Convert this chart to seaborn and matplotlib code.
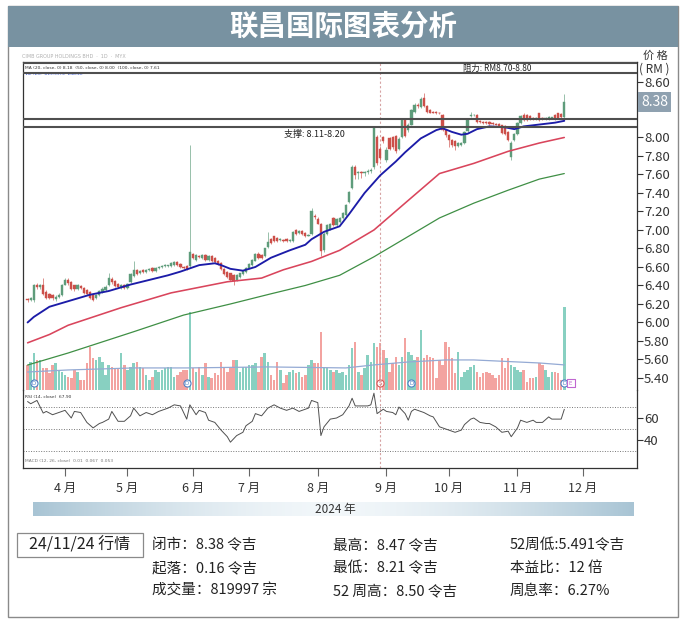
import numpy as np
import pandas as pd
import matplotlib
matplotlib.use("Agg")
import matplotlib.pyplot as plt
from matplotlib.patches import Rectangle
from matplotlib.colors import LinearSegmentedColormap
from matplotlib.transforms import blended_transform_factory
import seaborn as sns

sns.set_theme(style="white")
plt.rcParams["font.family"] = ["Noto Sans CJK SC", "DejaVu Sans"]
plt.rcParams["axes.unicode_minus"] = False

# ---------------- data ----------------
start_date = "2024-03-13"
end_date = "2024-12-31"
holidays = ["2024-03-28", "2024-04-10", "2024-04-11", "2024-05-01", "2024-05-22",
            "2024-06-03", "2024-06-17", "2024-07-08", "2024-09-16", "2024-10-31",
            "2024-12-25"]

opens = [
    6.25, 6.24, 6.24, 6.40, 6.38, 6.40, 6.33, 6.31, 6.30, 6.25,
    6.28, 6.30, 6.41, 6.46, 6.44, 6.40, 6.36, 6.39, 6.37, 6.35,
    6.33, 6.30, 6.26, 6.30, 6.33, 6.35, 6.40, 6.47, 6.45, 6.42,
    6.37, 6.41, 6.37, 6.44, 6.50, 6.57, 6.53, 6.57, 6.55, 6.57,
    6.59, 6.56, 6.59, 6.60, 6.61, 6.61, 6.61, 6.62, 6.65, 6.63,
    6.60, 6.61, 6.61, 6.74, 6.68, 6.72, 6.70, 6.73, 6.68, 6.72,
    6.70, 6.67, 6.64, 6.58, 6.55, 6.53, 6.51, 6.46, 6.49, 6.52,
    6.55, 6.59, 6.62, 6.67, 6.74, 6.73, 6.72, 6.82, 6.90, 6.93,
    6.91, 6.89, 6.89, 6.90, 6.88, 6.88, 7.00, 6.97, 6.99, 6.97,
    6.94, 6.96, 7.15, 7.12, 7.07, 6.78, 6.96, 7.01, 7.13, 7.05,
    7.09, 7.13, 7.16, 7.30, 7.45, 7.68, 7.62, 7.63, 7.62, 7.63,
    7.64, 7.68, 8.00, 7.88, 8.00, 7.76, 7.99, 8.00, 8.02, 7.88,
    8.00, 8.19, 8.08, 8.14, 8.28, 8.35, 8.33, 8.43, 8.34, 8.30,
    8.28, 8.28, 8.27, 8.24, 8.08, 8.03, 7.97, 7.96, 7.91, 7.92,
    7.94, 8.07, 8.23, 8.24, 8.24, 8.18, 8.17, 8.17, 8.17, 8.16,
    8.15, 8.15, 8.13, 8.12, 8.06, 7.79, 7.97, 8.04, 8.16, 8.24,
    8.24, 8.23, 8.21, 8.20, 8.26, 8.21, 8.20, 8.20, 8.21, 8.24,
    8.26, 8.25, 8.22]
closes = [
    6.24, 6.26, 6.40, 6.38, 6.40, 6.31, 6.27, 6.27, 6.26, 6.28,
    6.30, 6.40, 6.46, 6.43, 6.36, 6.36, 6.40, 6.37, 6.32, 6.31,
    6.26, 6.24, 6.30, 6.34, 6.36, 6.38, 6.48, 6.44, 6.39, 6.38,
    6.41, 6.37, 6.42, 6.52, 6.57, 6.52, 6.56, 6.55, 6.57, 6.58,
    6.56, 6.59, 6.60, 6.61, 6.62, 6.61, 6.64, 6.65, 6.62, 6.60,
    6.59, 6.58, 6.76, 6.70, 6.73, 6.71, 6.73, 6.68, 6.72, 6.66,
    6.65, 6.63, 6.58, 6.52, 6.49, 6.46, 6.45, 6.51, 6.53, 6.56,
    6.59, 6.63, 6.68, 6.74, 6.70, 6.70, 6.80, 6.87, 6.86, 6.88,
    6.88, 6.90, 6.88, 6.88, 6.89, 6.98, 6.96, 6.99, 6.96, 6.93,
    6.95, 7.20, 7.14, 7.07, 6.77, 6.96, 7.05, 7.06, 7.05, 7.12,
    7.13, 7.18, 7.27, 7.41, 7.68, 7.59, 7.62, 7.62, 7.63, 7.64,
    7.65, 8.10, 7.72, 7.78, 7.96, 7.87, 7.88, 7.90, 7.85, 7.98,
    8.19, 8.02, 8.14, 8.30, 8.35, 8.34, 8.42, 8.34, 8.28, 8.27,
    8.27, 8.26, 8.26, 8.08, 8.03, 7.97, 7.92, 7.91, 7.94, 7.94,
    8.06, 8.20, 8.24, 8.24, 8.17, 8.17, 8.16, 8.16, 8.15, 8.15,
    8.14, 8.12, 8.05, 8.04, 7.97, 7.94, 8.04, 8.16, 8.23, 8.19,
    8.19, 8.20, 8.20, 8.21, 8.19, 8.20, 8.21, 8.22, 8.21, 8.20,
    8.21, 8.22, 8.38]
highs = [
    6.27, 6.28, 6.42, 6.43, 6.42, 6.48, 6.35, 6.32, 6.31, 6.30,
    6.32, 6.42, 6.48, 6.48, 6.45, 6.41, 6.42, 6.41, 6.38, 6.36,
    6.34, 6.31, 6.31, 6.35, 6.38, 6.40, 6.54, 6.49, 6.46, 6.43,
    6.42, 6.42, 6.43, 6.54, 6.67, 6.58, 6.57, 6.58, 6.58, 6.59,
    6.60, 6.60, 6.61, 6.62, 6.63, 6.62, 6.65, 6.66, 6.66, 6.64,
    6.61, 6.62, 7.92, 6.75, 6.74, 6.73, 6.74, 6.74, 6.73, 6.73,
    6.71, 6.68, 6.65, 6.59, 6.56, 6.54, 6.52, 6.52, 6.54, 6.57,
    6.60, 6.64, 6.69, 6.75, 6.76, 6.74, 6.81, 6.98, 6.91, 6.94,
    6.92, 6.91, 6.90, 6.91, 6.90, 6.99, 7.01, 7.00, 7.00, 6.98,
    6.96, 7.24, 7.17, 7.14, 7.08, 6.98, 7.06, 7.08, 7.14, 7.13,
    7.14, 7.19, 7.28, 7.42, 7.70, 7.70, 7.64, 7.64, 7.64, 7.66,
    7.67, 8.12, 8.03, 7.91, 8.02, 7.90, 8.01, 8.02, 8.03, 8.00,
    8.21, 8.20, 8.16, 8.31, 8.37, 8.37, 8.44, 8.48, 8.35, 8.31,
    8.29, 8.29, 8.28, 8.25, 8.09, 8.04, 7.98, 7.97, 7.95, 7.95,
    8.07, 8.21, 8.28, 8.25, 8.25, 8.19, 8.18, 8.18, 8.18, 8.17,
    8.16, 8.16, 8.14, 8.13, 8.07, 7.96, 8.05, 8.17, 8.24, 8.26,
    8.25, 8.24, 8.22, 8.22, 8.27, 8.22, 8.22, 8.23, 8.22, 8.25,
    8.27, 8.26, 8.47]
lows = [
    6.22, 6.23, 6.22, 6.36, 6.36, 6.30, 6.25, 6.25, 6.24, 6.23,
    6.26, 6.29, 6.40, 6.41, 6.35, 6.34, 6.35, 6.36, 6.31, 6.30,
    6.25, 6.23, 6.25, 6.29, 6.32, 6.34, 6.39, 6.42, 6.38, 6.37,
    6.36, 6.36, 6.36, 6.43, 6.49, 6.51, 6.52, 6.54, 6.54, 6.56,
    6.55, 6.55, 6.58, 6.59, 6.60, 6.60, 6.60, 6.61, 6.61, 6.59,
    6.58, 6.57, 6.60, 6.69, 6.67, 6.70, 6.69, 6.67, 6.67, 6.65,
    6.64, 6.62, 6.57, 6.51, 6.48, 6.45, 6.41, 6.45, 6.48, 6.51,
    6.54, 6.58, 6.61, 6.66, 6.69, 6.69, 6.71, 6.81, 6.85, 6.87,
    6.87, 6.88, 6.87, 6.87, 6.87, 6.87, 6.95, 6.96, 6.95, 6.92,
    6.93, 6.95, 7.12, 7.06, 6.72, 6.76, 6.95, 7.00, 7.04, 7.04,
    7.08, 7.12, 7.15, 7.29, 7.44, 7.55, 7.55, 7.56, 7.58, 7.60,
    7.62, 7.66, 7.70, 7.76, 7.94, 7.74, 7.86, 7.88, 7.83, 7.86,
    7.99, 8.00, 8.06, 8.13, 8.27, 8.32, 8.32, 8.33, 8.27, 8.26,
    8.26, 8.25, 8.25, 8.07, 8.01, 7.90, 7.90, 7.86, 7.90, 7.91,
    7.93, 8.06, 8.22, 8.23, 8.16, 8.16, 8.15, 8.15, 8.14, 8.14,
    8.13, 8.11, 8.04, 8.03, 7.96, 7.76, 7.96, 8.03, 8.15, 8.18,
    8.18, 8.19, 8.19, 8.19, 8.18, 8.19, 8.19, 8.19, 8.20, 8.19,
    8.20, 8.21, 8.21]
# volume, thousand shares
volume_k = [
    248, 277, 366, 297, 297, 218, 218, 168, 248, 267,
    198, 178, 149, 129, 119, 198, 178, 99, 99, 267,
    426, 317, 297, 327, 277, 149, 248, 228, 218, 218,
    366, 248, 198, 228, 267, 277, 228, 218, 149, 99,
    129, 198, 178, 198, 218, 228, 228, 129, 149, 178,
    198, 198, 772, 218, 178, 228, 149, 267, 129, 119,
    168, 149, 277, 218, 178, 218, 297, 297, 178, 228,
    228, 248, 248, 267, 178, 327, 366, 277, 149, 99,
    277, 198, 69, 149, 178, 198, 168, 178, 129, 149,
    248, 297, 267, 267, 574, 228, 218, 198, 178, 198,
    168, 178, 149, 248, 416, 475, 178, 149, 218, 347,
    277, 465, 426, 465, 396, 317, 178, 267, 327, 248,
    327, 515, 376, 347, 297, 327, 594, 317, 347, 327,
    317, 119, 297, 248, 475, 426, 317, 168, 376, 129,
    178, 198, 228, 248, 178, 129, 168, 178, 168, 149,
    119, 149, 317, 218, 317, 248, 228, 198, 178, 198,
    79, 119, 119, 129, 267, 248, 198, 129, 178, 178,
    168, 99, 820]
vol_ma_idx = [0, 13, 34, 51, 77, 102, 111, 122, 134, 143, 157, 164, 172]
vol_ma_val = [178, 198, 218, 218, 228, 218, 248, 277, 297, 297, 277, 267, 248]

ma20_idx = [0, 2, 7, 14, 20, 26, 33, 39, 45, 49, 55, 60, 62, 65, 69, 73, 78, 84, 89, 91,
            95, 100, 103, 108, 113, 118, 121, 126, 131, 133, 136, 139, 141, 144, 148,
            153, 156, 159, 164, 169, 172]
ma20_val = [6.00, 6.06, 6.17, 6.24, 6.30, 6.34, 6.41, 6.46, 6.51, 6.55, 6.62, 6.64, 6.62,
            6.58, 6.56, 6.60, 6.70, 6.78, 6.84, 6.90, 6.98, 7.04, 7.17, 7.40, 7.59, 7.74,
            7.84, 7.99, 8.08, 8.10, 8.06, 8.03, 8.04, 8.09, 8.12, 8.11, 8.09, 8.12, 8.14,
            8.16, 8.18]
ma50_idx = [0, 7, 13, 30, 46, 55, 64, 75, 82, 91, 100, 111, 122, 132, 143, 154, 164, 172]
ma50_val = [5.78, 5.87, 5.97, 6.16, 6.32, 6.38, 6.44, 6.48, 6.57, 6.66, 6.78, 7.00, 7.32,
            7.61, 7.72, 7.85, 7.94, 8.00]
ma100_idx = [0, 13, 34, 50, 65, 78, 89, 100, 111, 122, 132, 143, 154, 164, 172]
ma100_val = [5.54, 5.67, 5.90, 6.08, 6.20, 6.31, 6.40, 6.51, 6.71, 6.93, 7.13, 7.29, 7.43,
             7.55, 7.61]

rsi_idx = [0, 1, 3, 5, 6, 8, 10, 12, 14, 15, 17, 19, 21, 23, 24, 26, 27, 29, 31, 33,
           34, 36, 38, 40, 42, 45, 47, 49, 51, 52, 54, 55, 57, 58, 60, 62, 64, 65, 67, 69,
           70, 72, 73, 75, 77, 79, 81, 83, 85, 87, 90, 91, 93, 94, 95, 97, 99, 101, 103, 104,
           105, 107, 109, 110, 111, 112, 114, 115, 117, 118, 119, 121, 122, 123, 124, 126,
           127, 129, 130, 132, 134, 135, 137, 139, 140, 142, 143, 145, 147, 148, 150, 152,
           154, 155, 157, 158, 160, 162, 163, 165, 167, 168, 170, 171, 172]
rsi_val = [75, 73, 76, 64.5, 66, 63, 65, 67, 60, 66, 65, 56, 51, 55, 56, 59, 66, 57, 57, 62,
           69, 62, 65, 63, 66, 69, 72, 71, 59, 72, 63, 67, 65, 58, 56, 49, 43, 38, 44, 47,
           53, 57, 64, 62, 69, 72, 69, 67, 69, 66, 69, 76, 74, 44, 52, 59, 60, 63, 71, 78,
           71, 71, 71, 72, 82.6, 64, 68, 66, 65, 63, 70, 64, 58, 66, 68, 66,
           65, 62, 61, 52, 50, 49, 47, 49, 54, 59, 60, 56, 55, 55, 52, 47,
           48, 43, 51, 58, 56, 58, 56, 56, 61, 59, 59, 59, 67.9]

event_idx = [2, 51, 113, 123, 172, 174]
event_lbl = ["D", "D", "S", "D", "D", "E"]
event_line_idx = 113

support = [8.11, 8.20]
resistance = [8.70, 8.80]
price_ticks = [8.60, 8.00, 7.80, 7.60, 7.40, 7.20, 7.00, 6.80, 6.60, 6.40, 6.20,
               6.00, 5.80, 5.60, 5.40]
rsi_ticks = [60, 40]
rsi_levels = [70, 50, 30]
tick_months = [4, 5, 6, 7, 8, 9, 10, 11, 12]

title = "联昌国际图表分析"
info_date = "24/11/24 行情"
info_cols = [["闭市：8.38 令吉", "起落：0.16 令吉", "成交量：819997 宗"],
             ["最高：8.47 令吉", "最低：8.21 令吉", "52 周高：8.50 令吉"],
             ["52周低:5.491令吉", "本益比：12 倍", "周息率：6.27%"]]

# ---------------- derived ----------------
o = np.array(opens); c = np.array(closes); h = np.array(highs); l = np.array(lows)
v = np.array(volume_k)
idx = np.arange(len(c))
days = pd.bdate_range(start_date, end_date)
days = days[~days.isin(pd.to_datetime(holidays))]
month_pos = [int(np.flatnonzero(days.month == m)[0]) for m in tick_months]
month_lbl = [f"{m} 月" for m in tick_months]

GREEN = "#5e9c7b"
RED = "#cc4f49"
TEAL = "#88d0c1"
PINK = "#f3a3a0"
BLUE = "#1c1ca8"
MARED = "#d9455c"
MAGREEN = "#3f8f45"
FRAME = "#7892a1"

W, H = 690, 624
fig = plt.figure(figsize=(W / 100, H / 100), dpi=100)
fig.patch.set_facecolor("white")


def fr(x0, y0, x1, y1):
    return [x0 / W, 1 - y1 / H, (x1 - x0) / W, (y1 - y0) / H]


def ft(x, y, s, **kw):
    return fig.text(x / W, 1 - y / H, s, **kw)


# outer frame + title bar
fig.patches.append(Rectangle((8 / W, 1 - 617 / H), 670 / W, 611 / H, transform=fig.transFigure,
                             fill=False, ec="#8a8a8a", lw=1.0))
fig.patches.append(Rectangle((8 / W, 1 - 47 / H), 670 / W, 41 / H, transform=fig.transFigure,
                             fc=FRAME, ec="none"))
ft(343, 27, title, ha="center", va="center", color="white", fontsize=20.5, fontweight="bold")

XL = (-1.47, 195.3)

# volume axes (behind)
ax_vol = fig.add_axes(fr(23, 62, 637, 390))
ax = fig.add_axes(fr(23, 62, 637, 390))
ax_rsi = fig.add_axes(fr(23, 390, 637, 468))
ax_vol.set_zorder(1)
ax.set_zorder(2)
ax.patch.set_alpha(0)

vcol = np.where(c >= o, TEAL, PINK)
ax_vol.bar(idx, v, width=0.8, color=vcol, edgecolor="none")
sns.lineplot(x=vol_ma_idx, y=vol_ma_val, ax=ax_vol, color="#94aad4", linewidth=0.9,
             estimator=None, sort=False, legend=False)
ax_vol.set_xlim(*XL)
ax_vol.set_ylim(0, 820 * 328 / 83)
ax_vol.set_xticks([]); ax_vol.set_yticks([])
ax_vol.set_xlabel(""); ax_vol.set_ylabel("")
for s in ax_vol.spines.values():
    s.set_visible(False)

tr = blended_transform_factory(ax_vol.transData, ax_vol.transAxes)
ecol = {"D": "#4d7fc4", "S": "#d25a5a", "E": "#c067d0"}
for ei, lb in zip(event_idx, event_lbl):
    mk = "s" if lb == "E" else "o"
    ax_vol.scatter([ei], [0.021], s=26, marker=mk, facecolor="white", edgecolor=ecol[lb],
                   linewidth=0.8, transform=tr, zorder=5, clip_on=False)
    ax_vol.text(ei, 0.021, lb, transform=tr, ha="center", va="center", fontsize=4,
                color=ecol[lb], zorder=6, family="DejaVu Sans")

# candles
ccol = np.where(c >= o, GREEN, RED)
ax.vlines(idx, l, h, colors=ccol, linewidth=0.6, alpha=0.75, zorder=2)
body = np.maximum(np.abs(c - o), 0.006)
ax.bar(idx, body, bottom=np.minimum(o, c), width=0.72, color=ccol, edgecolor=ccol,
       linewidth=0.3, zorder=2)

# moving averages
sns.lineplot(x=ma100_idx, y=ma100_val, ax=ax, color=MAGREEN, linewidth=0.9,
             estimator=None, sort=False, legend=False, zorder=3)
sns.lineplot(x=ma50_idx, y=ma50_val, ax=ax, color=MARED, linewidth=1.15,
             estimator=None, sort=False, legend=False, zorder=3)
sns.lineplot(x=ma20_idx, y=ma20_val, ax=ax, color=BLUE, linewidth=1.35,
             estimator=None, sort=False, legend=False, zorder=3)

# support / resistance bands
for lv in support + resistance:
    ax.axhline(lv, color="#4f4f4f", linewidth=1.5, zorder=4)
ax.axvline(event_line_idx, color="#d6a3a3", linewidth=0.8, linestyle=(0, (2, 2)), zorder=1)

trx = blended_transform_factory(ax.transAxes, ax.transData)
ax.text(0.772, np.mean(resistance), "阻力: RM%.2f-%.2f" % tuple(resistance), transform=trx,
        ha="center", va="center", fontsize=6, color="#222",
        family=["Liberation Sans Narrow", "Noto Sans CJK SC", "DejaVu Sans"], zorder=5)
ax.annotate("支撑: %.2f-%.2f" % tuple(support), xy=(0.474, support[0]), xycoords=trx,
            xytext=(0, -2), textcoords="offset points", ha="center", va="top",
            fontsize=6.5, color="#222",
            family=["Liberation Sans Narrow", "Noto Sans CJK SC", "DejaVu Sans"], zorder=5)

ax.text(0.004, 0.982, "MA (20, close, 0) 8.18  (50, close, 0) 8.00  (100, close, 0) 7.61",
        transform=ax.transAxes, fontsize=3.2, color="#333", va="center", family="DejaVu Sans")
ax.text(0.004, 0.962, "Vol (20)  819.997k  248.2k", transform=ax.transAxes, fontsize=3.2,
        color="#3b5bdb", va="center", family="DejaVu Sans")
ft(22, 56, "CIMB GROUP HOLDINGS BHD  ·  1D  ·  MYX", fontsize=3.5, color="#b0b0b0",
   ha="left", va="center", family="DejaVu Sans")

ax.set_xlim(*XL)
ax.set_ylim(5.27, 8.816)
ax.set_xticks([])
ax.yaxis.tick_right()
ax.set_yticks(price_ticks)
ax.set_yticklabels([f"{t:.2f}" for t in price_ticks])
ax.tick_params(axis="y", right=True, left=False, labelright=True, labelleft=False,
               direction="out", length=4, width=0.8, color="#333", labelcolor="#333",
               labelsize=9.5, pad=1)
ax.set_xlabel(""); ax.set_ylabel("")
for side, s in ax.spines.items():
    s.set_color("#333"); s.set_linewidth(0.9)
ax.spines["bottom"].set_visible(False)

# last price label
ax.annotate(f"{c[-1]:.2f}", xy=(1.0, c[-1]), xycoords=trx, xytext=(3, 0),
            textcoords="offset points", ha="left", va="center", color="white", fontsize=10,
            bbox=dict(boxstyle="square,pad=0.22", fc="#8fa1b0", ec="none"),
            annotation_clip=False, zorder=6)

# RSI panel
for lv in rsi_levels:
    ax_rsi.axhline(lv, color="#777", linewidth=0.7, linestyle=(0, (1, 1.6)))
ax_rsi.axvline(event_line_idx, color="#d6a3a3", linewidth=0.8, linestyle=(0, (2, 2)))
sns.lineplot(x=rsi_idx, y=rsi_val, ax=ax_rsi, color="#505050", linewidth=0.7,
             estimator=None, sort=False, legend=False)
ax_rsi.set_xlim(*XL)
ax_rsi.set_ylim(14.5, 85.5)
ax_rsi.yaxis.tick_right()
ax_rsi.set_yticks(rsi_ticks)
ax_rsi.set_yticklabels([str(t) for t in rsi_ticks])
ax_rsi.tick_params(axis="y", right=True, left=False, labelright=True, labelleft=False,
                   direction="out", length=4, width=0.8, color="#333", labelcolor="#333",
                   labelsize=9.5, pad=1)
ax_rsi.set_xticks(month_pos)
ax_rsi.set_xticklabels(month_lbl)
ax_rsi.tick_params(axis="x", bottom=True, direction="out", length=6, width=0.8,
                   color="#666", labelcolor="#333", labelsize=9, pad=4)
ax_rsi.set_xlabel(""); ax_rsi.set_ylabel("")
for side, s in ax_rsi.spines.items():
    s.set_color("#333"); s.set_linewidth(0.9)
ax_rsi.spines["top"].set_visible(False)
ax_rsi.text(0.004, 0.91, "RSI (14, close)  67.90", transform=ax_rsi.transAxes, fontsize=3.2,
            color="#333", va="center", family="DejaVu Sans")
ax_rsi.text(0.004, 0.09, "MACD (12, 26, close)  0.01  0.067  0.053", transform=ax_rsi.transAxes,
            fontsize=3.2, color="#777", va="center", family="DejaVu Sans")

ft(655, 56, "价 格", ha="center", va="center", fontsize=8, color="#333")
ft(654, 69, "( RM )", ha="center", va="center", fontsize=8.5, color="#333")

# year gradient bar
ax_g = fig.add_axes(fr(33, 502, 634, 516))
grad = np.abs(np.linspace(-1, 1, 400)) ** 1.6
cmap = LinearSegmentedColormap.from_list("g", ["#f2f7fa", "#a8c4d4"])
ax_g.imshow(grad[None, :], aspect="auto", cmap=cmap, vmin=0, vmax=1,
            extent=(0, 1, 0, 1))
ax_g.set_axis_off()
ft(335, 509, "2024 年", ha="center", va="center", fontsize=8.5, color="#333")

# info area
fig.patches.append(Rectangle((17 / W, 1 - 557 / H), 126 / W, 24 / H, transform=fig.transFigure,
                             fill=False, ec="#8a8a8a", lw=0.9))
ft(80, 545, info_date, ha="center", va="center", fontsize=11.5, color="#222")
col_x = [152, 333, 510]
row_y = [545, 568, 591]
for cx, col in zip(col_x, info_cols):
    for ry, s in zip(row_y, col):
        ft(cx, ry, s, ha="left", va="center", fontsize=10.5, color="#222")

fig.savefig("out.png", dpi=100)
